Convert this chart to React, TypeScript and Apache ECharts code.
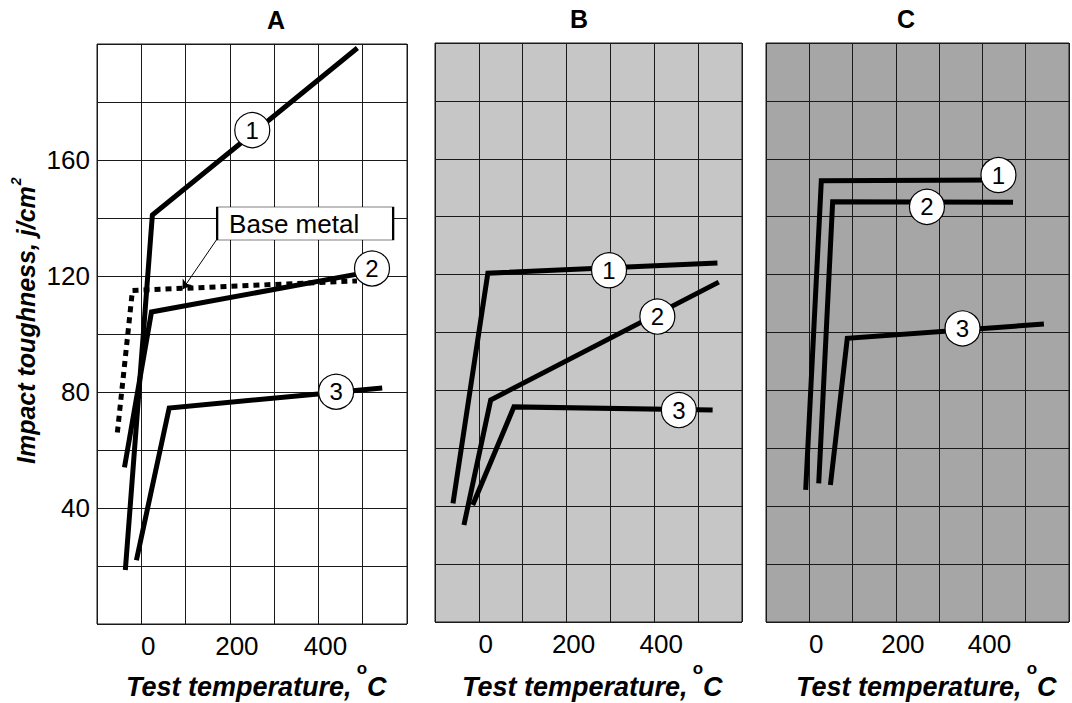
import React, { useEffect, useRef } from "react";
import * as echarts from "echarts";

const panelNames = ["A", "B", "C"];
const xLabelValues = [0, 200, 400];
const yLabelValues = [40, 80, 120, 160];

// Panel A (white background)
const a1 = [[-36, 18.6], [25, 141], [488, 198.6]];
const a2 = [[-38, 54], [23, 107.6], [500, 121]];
const a3 = [[-11, 22], [63, 74.5], [544, 81.4]];
const aBase = [[-54, 66], [-20, 115], [487, 118.3]];
const aMarks = [[250.6, 170.3, "1"], [521, 122.6, "2"], [440, 80.1, "3"]];
const aBaseLabel = [[370, 138.1, "Base metal"]];
const aArrow = [[172.2, 133], [93.2, 115.4]];

// Panel B (light grey)
const b1 = [[-59, 41], [20.5, 120.5], [544, 124]];
const b2 = [[-34, 33.5], [27, 76.7], [547, 117.4]];
const b3 = [[-14, 40.4], [80, 74.3], [533, 73.2]];
const bMarks = [[296.8, 121.5, "1"], [407, 105.5, "2"], [456, 73.2, "3"]];

// Panel C (dark grey)
const c1 = [[-8.3, 45.6], [27.8, 152.4], [430, 152.7]];
const c2 = [[21.8, 47.9], [54, 145.2], [470.7, 145]];
const c3 = [[48.8, 47.3], [87.8, 98], [542, 102.9]];
const cMarks = [[437, 154.4, "1"], [271.8, 143.4, "2"], [354, 101.4, "3"]];

const FONT = 'Arial, "Liberation Sans", sans-serif';

const gridBoxes = [
  { left: 97, top: 44, width: 310, height: 580, bg: "#ffffff" },
  { left: 435, top: 43, width: 307, height: 579, bg: "#c6c6c6" },
  { left: 766, top: 43, width: 311, height: 579, bg: "#a6a6a6" },
];

function measure(text: string, font: string): number {
  const c = document.createElement("canvas").getContext("2d");
  if (!c) return text.length * 12;
  c.font = font;
  return c.measureText(text).width;
}

function lineSeries(data: number[][], gi: number, dashed = false) {
  return {
    type: "line",
    xAxisIndex: gi,
    yAxisIndex: gi,
    data,
    symbol: "none",
    showSymbol: false,
    silent: true,
    z: 3,
    lineStyle: {
      color: "#000",
      width: 5,
      join: "miter",
      cap: "butt",
      type: dashed ? [6, 5] : "solid",
    },
  };
}

function markSeries(data: any[], gi: number) {
  return {
    type: "scatter",
    xAxisIndex: gi,
    yAxisIndex: gi,
    data,
    symbol: "circle",
    symbolSize: 35,
    silent: true,
    z: 6,
    itemStyle: { color: "#fff", borderColor: "#000", borderWidth: 1.2, opacity: 1 },
    label: {
      show: true,
      position: "inside",
      formatter: (p: any) => p.value[2],
      fontSize: 24,
      fontFamily: FONT,
      color: "#000",
    },
  };
}

export default function App() {
  const ref = useRef<HTMLDivElement>(null);

  useEffect(() => {
    if (!ref.current) return;
    const chart = echarts.init(ref.current, undefined, { renderer: "svg" });

    const grid = gridBoxes.map((g) => ({
      left: g.left,
      top: g.top,
      width: g.width,
      height: g.height,
      show: true,
      backgroundColor: g.bg,
      borderColor: "#1a1a1a",
      borderWidth: 1,
      containLabel: false,
    }));

    const xAxis = gridBoxes.map((_, i) => ({
      type: "value",
      gridIndex: i,
      min: -100,
      max: 600,
      interval: 100,
      axisLine: { show: false },
      axisTick: { show: false },
      splitLine: { show: true, lineStyle: { color: "#1a1a1a", width: 1 } },
      axisLabel: {
        show: true,
        formatter: (v: number) => (xLabelValues.includes(v) ? String(v) : ""),
        fontSize: 26,
        fontFamily: FONT,
        color: "#000",
        margin: 9,
        padding: [0, 0, 0, 14],
      },
    }));

    const yAxis = gridBoxes.map((_, i) => ({
      type: "value",
      gridIndex: i,
      min: 0,
      max: 200,
      interval: 20,
      axisLine: { show: false },
      axisTick: { show: false },
      splitLine: { show: true, lineStyle: { color: "#1a1a1a", width: 1 } },
      axisLabel: {
        show: i === 0,
        formatter: (v: number) => (yLabelValues.includes(v) ? String(v) : ""),
        fontSize: 26,
        fontFamily: FONT,
        color: "#000",
        margin: 7,
      },
    }));

    const series: any[] = [
      lineSeries(a1, 0),
      lineSeries(a2, 0),
      lineSeries(a3, 0),
      lineSeries(aBase, 0, true),
      lineSeries(b1, 1),
      lineSeries(b2, 1),
      lineSeries(b3, 1),
      lineSeries(c1, 2),
      lineSeries(c2, 2),
      lineSeries(c3, 2),
      markSeries(aMarks, 0),
      markSeries(bMarks, 1),
      markSeries(cMarks, 2),
      {
        type: "lines",
        coordinateSystem: "cartesian2d",
        xAxisIndex: 0,
        yAxisIndex: 0,
        silent: true,
        z: 4,
        symbol: ["none", "arrow"],
        symbolSize: [0, 9],
        lineStyle: { color: "#000", width: 1, opacity: 1 },
        data: [{ coords: aArrow }],
      },
      {
        type: "scatter",
        xAxisIndex: 0,
        yAxisIndex: 0,
        data: aBaseLabel,
        symbol: "rect",
        symbolSize: [176, 33],
        silent: true,
        z: 5,
        itemStyle: { color: "#fff", borderColor: "#000", borderWidth: 1, opacity: 1 },
        label: {
          show: true,
          position: "inside",
          offset: [-11, 0],
          formatter: (p: any) => p.value[2],
          fontSize: 26,
          fontFamily: FONT,
          color: "#000",
        },
      },
    ];

    const graphic: any[] = [];
    const titlePos = [
      [276, 20],
      [579, 19],
      [906, 19],
    ];
    panelNames.forEach((n, i) => {
      graphic.push({
        type: "text",
        x: titlePos[i][0],
        y: titlePos[i][1],
        silent: true,
        style: {
          text: n,
          font: `bold 25px ${FONT}`,
          fill: "#000",
          align: "center",
          verticalAlign: "middle",
          textAlign: "center",
          textVerticalAlign: "middle",
        },
      });
    });

    const xTitleFont = `italic bold 27px ${FONT}`;
    const xStarts = [126, 462, 796];
    xStarts.forEach((x0) => {
      graphic.push({
        type: "text",
        x: x0,
        y: 687,
        silent: true,
        style: {
          text: "Test temperature,",
          font: xTitleFont,
          fill: "#000",
          align: "left",
          verticalAlign: "middle",
          textAlign: "left",
          textVerticalAlign: "middle",
        },
      });
      graphic.push({
        type: "text",
        x: x0 + 236,
        y: 668,
        silent: true,
        style: {
          text: "o",
          font: `bold 17px ${FONT}`,
          fill: "#000",
          align: "center",
          verticalAlign: "middle",
          textAlign: "center",
          textVerticalAlign: "middle",
        },
      });
      graphic.push({
        type: "text",
        x: x0 + 241,
        y: 687,
        silent: true,
        style: {
          text: "C",
          font: xTitleFont,
          fill: "#000",
          align: "left",
          verticalAlign: "middle",
          textAlign: "left",
          textVerticalAlign: "middle",
        },
      });
    });

    const yTitleFont = `italic bold 25px ${FONT}`;
    const yText = "Impact toughness, j/cm";
    const yW = measure(yText, yTitleFont);
    const yStart = 464;
    graphic.push({
      type: "text",
      x: 26,
      y: yStart,
      rotation: Math.PI / 2,
      silent: true,
      style: {
        text: yText,
        font: yTitleFont,
        fill: "#000",
        align: "left",
        verticalAlign: "middle",
        textAlign: "left",
        textVerticalAlign: "middle",
      },
    });
    graphic.push({
      type: "text",
      x: 16,
      y: yStart - yW - 1,
      rotation: Math.PI / 2,
      silent: true,
      style: {
        text: "2",
        font: `italic bold 14px ${FONT}`,
        fill: "#000",
        align: "left",
        verticalAlign: "middle",
        textAlign: "left",
        textVerticalAlign: "middle",
      },
    });

    chart.setOption({
      animation: false,
      backgroundColor: "#ffffff",
      grid,
      xAxis,
      yAxis,
      series,
      graphic,
    });

    return () => chart.dispose();
  }, []);

  return (
    <div
      ref={ref}
      style={{ position: "fixed", left: 0, top: 0, width: 1072, height: 703, background: "#fff" }}
    />
  );
}
